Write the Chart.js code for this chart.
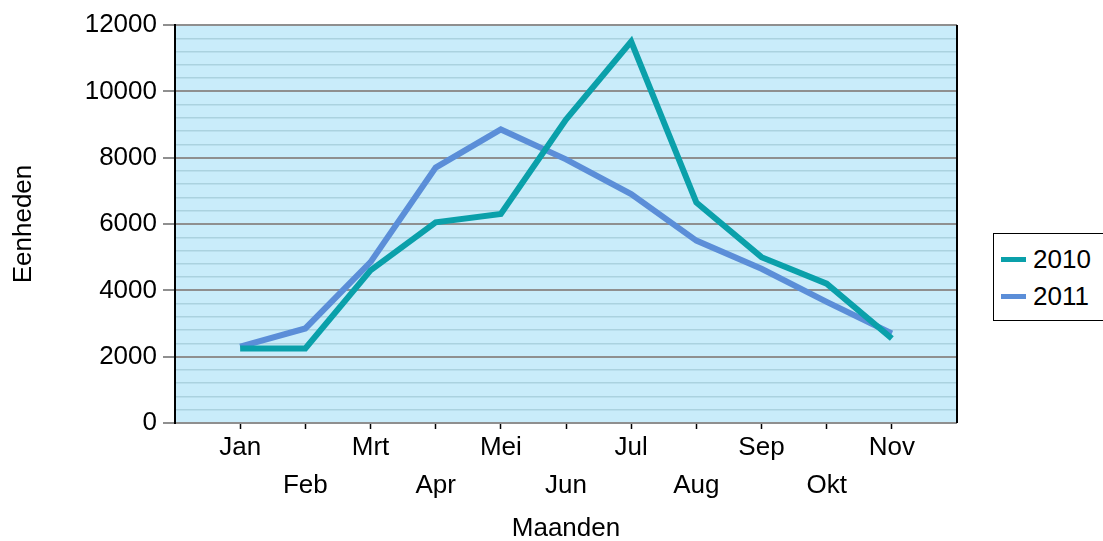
<!DOCTYPE html>
<html>
<head>
<meta charset="utf-8">
<script src="https://cdn.jsdelivr.net/npm/chart.js@4"></script>
<style>
  html, body { margin: 0; padding: 0; background: #fff; }
  #wrap { position: relative; width: 1103px; height: 541px; }
  #legend {
    position: absolute; left: 993px; top: 233px; width: 130px; height: 86px;
    border: 1.5px solid #000; background: #fff;
    font-family: "Liberation Sans", Arial, sans-serif; font-size: 26px; color: #000;
  }
  #legend .item { position: absolute; left: 7px; height: 30px; line-height: 30px; }
  #legend .swatch { display: inline-block; width: 25px; height: 5px; vertical-align: middle; margin-right: 7px; position: relative; top: -2px; }
</style>
</head>
<body>
<div id="wrap">
  <canvas id="chart" width="1103" height="541"></canvas>
  <div id="legend"></div>
</div>
<script>
// Maanden en waarden
const months = ['Jan', 'Feb', 'Mrt', 'Apr', 'Mei', 'Jun', 'Jul', 'Aug', 'Sep', 'Okt', 'Nov'];
const seriesNames = ['2010', '2011'];
const values2010 = [2250, 2250, 4600, 6050, 6300, 9150, 11500, 6650, 5000, 4200, 2550];
const values2011 = [2300, 2850, 4850, 7700, 8850, 7950, 6900, 5500, 4650, 3650, 2700];
const yTicks = [0, 2000, 4000, 6000, 8000, 10000, 12000];

const colors = ['#0aa0aa', '#5b8ed8'];

// lege plaatsen aan beide kanten zodat de punten niet op de rand staan
const labels = [''].concat(months, ['']);
const pad = arr => [null].concat(arr, [null]);

// achtergrond van het plotvlak + rechterrand
const plotBackground = {
    id: 'plotBackground',
    beforeDraw(chart) {
        const { ctx, chartArea: a } = chart;
        ctx.save();
        ctx.fillStyle = '#c9ecfa';
        ctx.fillRect(a.left, a.top, a.right - a.left, a.bottom - a.top);
        ctx.restore();
    },
    afterDatasetsDraw(chart) {
        const { ctx, chartArea: a } = chart;
        ctx.save();
        ctx.strokeStyle = '#000';
        ctx.lineWidth = 2;
        ctx.beginPath();
        ctx.moveTo(a.right, a.top);
        ctx.lineTo(a.right, a.bottom);
        ctx.stroke();
        ctx.restore();
    }
};

const font = { family: '"Liberation Sans", Arial, sans-serif', size: 26 };

new Chart(document.getElementById('chart'), {
    type: 'line',
    data: {
        labels: labels,
        datasets: [
            {
                label: seriesNames[0],
                data: pad(values2010),
                borderColor: colors[0],
                borderWidth: 6,
                pointRadius: 0,
                tension: 0
            },
            {
                label: seriesNames[1],
                data: pad(values2011),
                borderColor: colors[1],
                borderWidth: 6,
                pointRadius: 0,
                tension: 0
            }
        ]
    },
    options: {
        responsive: false,
        animation: false,
        layout: { padding: { top: 25, right: 146, left: 0, bottom: 0 } },
        plugins: {
            legend: { display: false },
            tooltip: { enabled: false }
        },
        scales: {
            x: {
                offset: false,
                border: { display: false },
                grid: {
                    drawOnChartArea: false,
                    tickLength: 6,
                    tickWidth: 1.5,
                    tickColor: ctx => (ctx.index === 0 || ctx.index === labels.length - 1) ? 'rgba(0,0,0,0)' : '#000'
                },
                ticks: {
                    autoSkip: false,
                    maxRotation: 0,
                    padding: 0,
                    color: '#000',
                    font: Object.assign({ lineHeight: 1.46 }, font),
                    callback: (val, i) => {
                        const l = labels[i];
                        if (!l) return '';
                        return (i % 2 === 1) ? [l] : ['', l];
                    }
                },
                title: {
                    display: true,
                    text: 'Maanden',
                    color: '#000',
                    font: Object.assign({ lineHeight: 0.9 }, font),
                    padding: { top: 4, bottom: 0 }
                },
                afterFit: s => { s.height = 118; }
            },
            y: {
                min: yTicks[0],
                max: yTicks[yTicks.length - 1],
                border: { display: true, color: '#000', width: 2 },
                grid: {
                    color: ctx => (ctx.tick.value % 2000 === 0) ? '#8f8f8f' : '#abd2df',
                    lineWidth: ctx => (ctx.tick.value % 2000 === 0) ? 2 : 1.5,
                    tickLength: 12,
                    tickColor: ctx => (ctx.tick.value % 2000 === 0) ? '#8f8f8f' : 'rgba(0,0,0,0)'
                },
                ticks: {
                    stepSize: 400,
                    autoSkip: false,
                    padding: 6,
                    color: '#000',
                    font: font,
                    callback: v => yTicks.includes(v) ? String(v) : ''
                },
                title: {
                    display: true,
                    text: 'Eenheden',
                    color: '#000',
                    font: font,
                    padding: { top: 8, bottom: 0 }
                },
                afterFit: s => { s.width = 175; }
            }
        }
    },
    plugins: [plotBackground]
});

// legenda
const legend = document.getElementById('legend');
seriesNames.forEach((name, i) => {
    const item = document.createElement('div');
    item.className = 'item';
    item.style.top = (10 + i * 37) + 'px';
    item.innerHTML = '<span class="swatch" style="background:' + colors[i] + '"></span>' + name;
    legend.appendChild(item);
});
</script>
</body>
</html>
